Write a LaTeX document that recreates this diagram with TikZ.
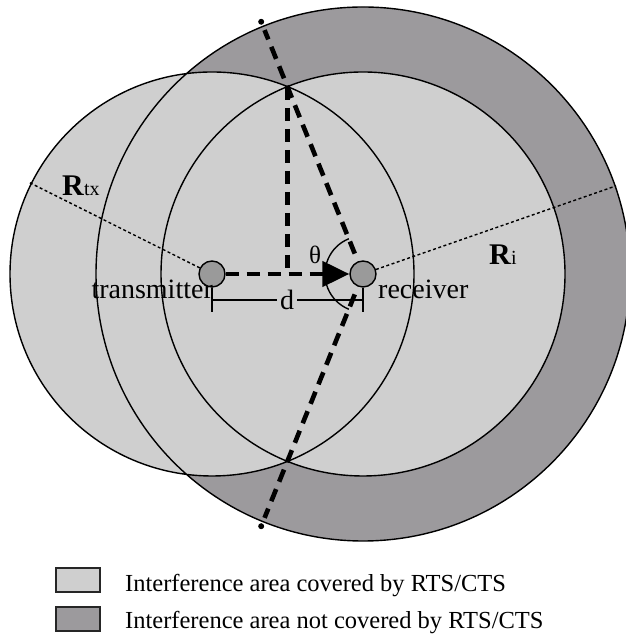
\documentclass[tikz,border=0pt]{standalone}
\usepackage{fontspec}
\setmainfont{Liberation Serif}
\usetikzlibrary{calc,arrows.meta}
\definecolor{lightarea}{HTML}{CFCFCF}
\definecolor{darkarea}{HTML}{9C9A9D}
\definecolor{nodegray}{HTML}{9A9A9A}
\tikzset{
 rim/.style={draw=black, line width=1.4pt},
 thickdash/.style={line width=4.6pt, dash pattern=on 13pt off 8pt},
 thindot/.style={line width=1.4pt, dash pattern=on 3pt off 2.5pt},
 station/.style={circle, draw=black, line width=1.4pt, fill=nodegray, minimum size=26pt, inner sep=0pt},
 lbl/.style={inner sep=0pt, font=\fontsize{28}{30}\selectfont},
 enddot/.style={circle, fill=black, inner sep=0pt, minimum size=6pt},
 legbox/.style={draw=black!85, line width=2pt, minimum width=44pt, minimum height=24pt, inner sep=0pt},
 legtext/.style={anchor=base west, inner sep=0pt, font=\fontsize{24.5}{26}\selectfont},
}
\begin{document}
\begin{tikzpicture}[x=1pt,y=1pt]
\useasboundingbox (0,0) rectangle (625,636);
\coordinate (tc) at (212,362);
\coordinate (rc) at (363,362);
% areas
\fill[darkarea] (rc) circle (267pt);
\fill[lightarea] (tc) circle (202pt) (rc) circle (202pt);
\draw[rim] (rc) circle (267pt) (tc) circle (202pt) (rc) circle (202pt);
% key points
\coordinate (ti) at (287.5,549);
\coordinate (bi) at (287.5,175);
\coordinate (foot) at (287.5,362);
\coordinate (uin) at ($(rc)!22pt!(ti)$);
\coordinate (uout) at ($(rc)!263pt!(ti)$);
\coordinate (lin) at ($(rc)!22pt!(bi)$);
\coordinate (lout) at ($(rc)!263pt!(bi)$);
\node[enddot] (udot) at ($(rc)!272pt!(ti)$) {};
\node[enddot] (ldot) at ($(rc)!272pt!(bi)$) {};
\coordinate (rtxend) at ($(tc)+(153.4:206pt)$);
\coordinate (riend) at ($(rc)+(19.2:268pt)$);
% stations
\node[station] (tx) at (tc) {};
\node[station] (rx) at (rc) {};
% radii
\draw[thindot] (tx) -- (rtxend);
\draw[thindot] (rx) -- (riend);
% thick dashed lines
\draw[thickdash] (uin) -- (uout);
\draw[thickdash] (lin) -- (lout);
\draw[thickdash] (ti) -- (foot);
\draw[thickdash, -{Triangle[length=27pt,width=25pt]}] (tx) -- (rx);
% angle arc
\draw[line width=1.4pt] ($(rc)+(112:38pt)$) arc[start angle=112, end angle=248, radius=38pt];
% distance bracket
\node[lbl, inner xsep=3pt] (dlab) at (287,336) {d};
\coordinate (tkL1) at (212,348);
\coordinate (tkL2) at (212,324);
\coordinate (tkR1) at (363,348);
\coordinate (tkR2) at (363,324);
\coordinate (midL) at (212,336);
\coordinate (midR) at (363,336);
\draw[line width=1.4pt] (tkL1) -- (tkL2) (tkR1) -- (tkR2);
\draw[line width=1.4pt] (midL) -- (dlab.west) (dlab.east) -- (midR);
% labels
\node[lbl, anchor=base east] (txlab) at (213,337) {transmitter};
\node[lbl, anchor=base west] (rxlab) at (378,337) {receiver};
\node[inner sep=0pt, font=\fontsize{25}{25}\selectfont] (theta) at (315,381) {θ};
\node[anchor=base west, inner sep=0pt] (rtxlab) at (62,440) {\fontsize{30}{30}\selectfont\textbf{R}\fontsize{20}{20}\selectfont tx};
\node[anchor=base west, inner sep=0pt] (rilab) at (489,371) {\fontsize{30}{30}\selectfont\textbf{R}\fontsize{20}{20}\selectfont i};
% legend
\node[legbox, fill=lightarea] (leg1) at (77.5,55.5) {};
\node[legbox, fill=darkarea] (leg2) at (77.5,16.5) {};
\node[legtext] (leg1t) at (125,44) {Interference area covered by RTS/CTS};
\node[legtext] (leg2t) at (125,8) {Interference area not covered by RTS/CTS};
\end{tikzpicture}
\end{document}
